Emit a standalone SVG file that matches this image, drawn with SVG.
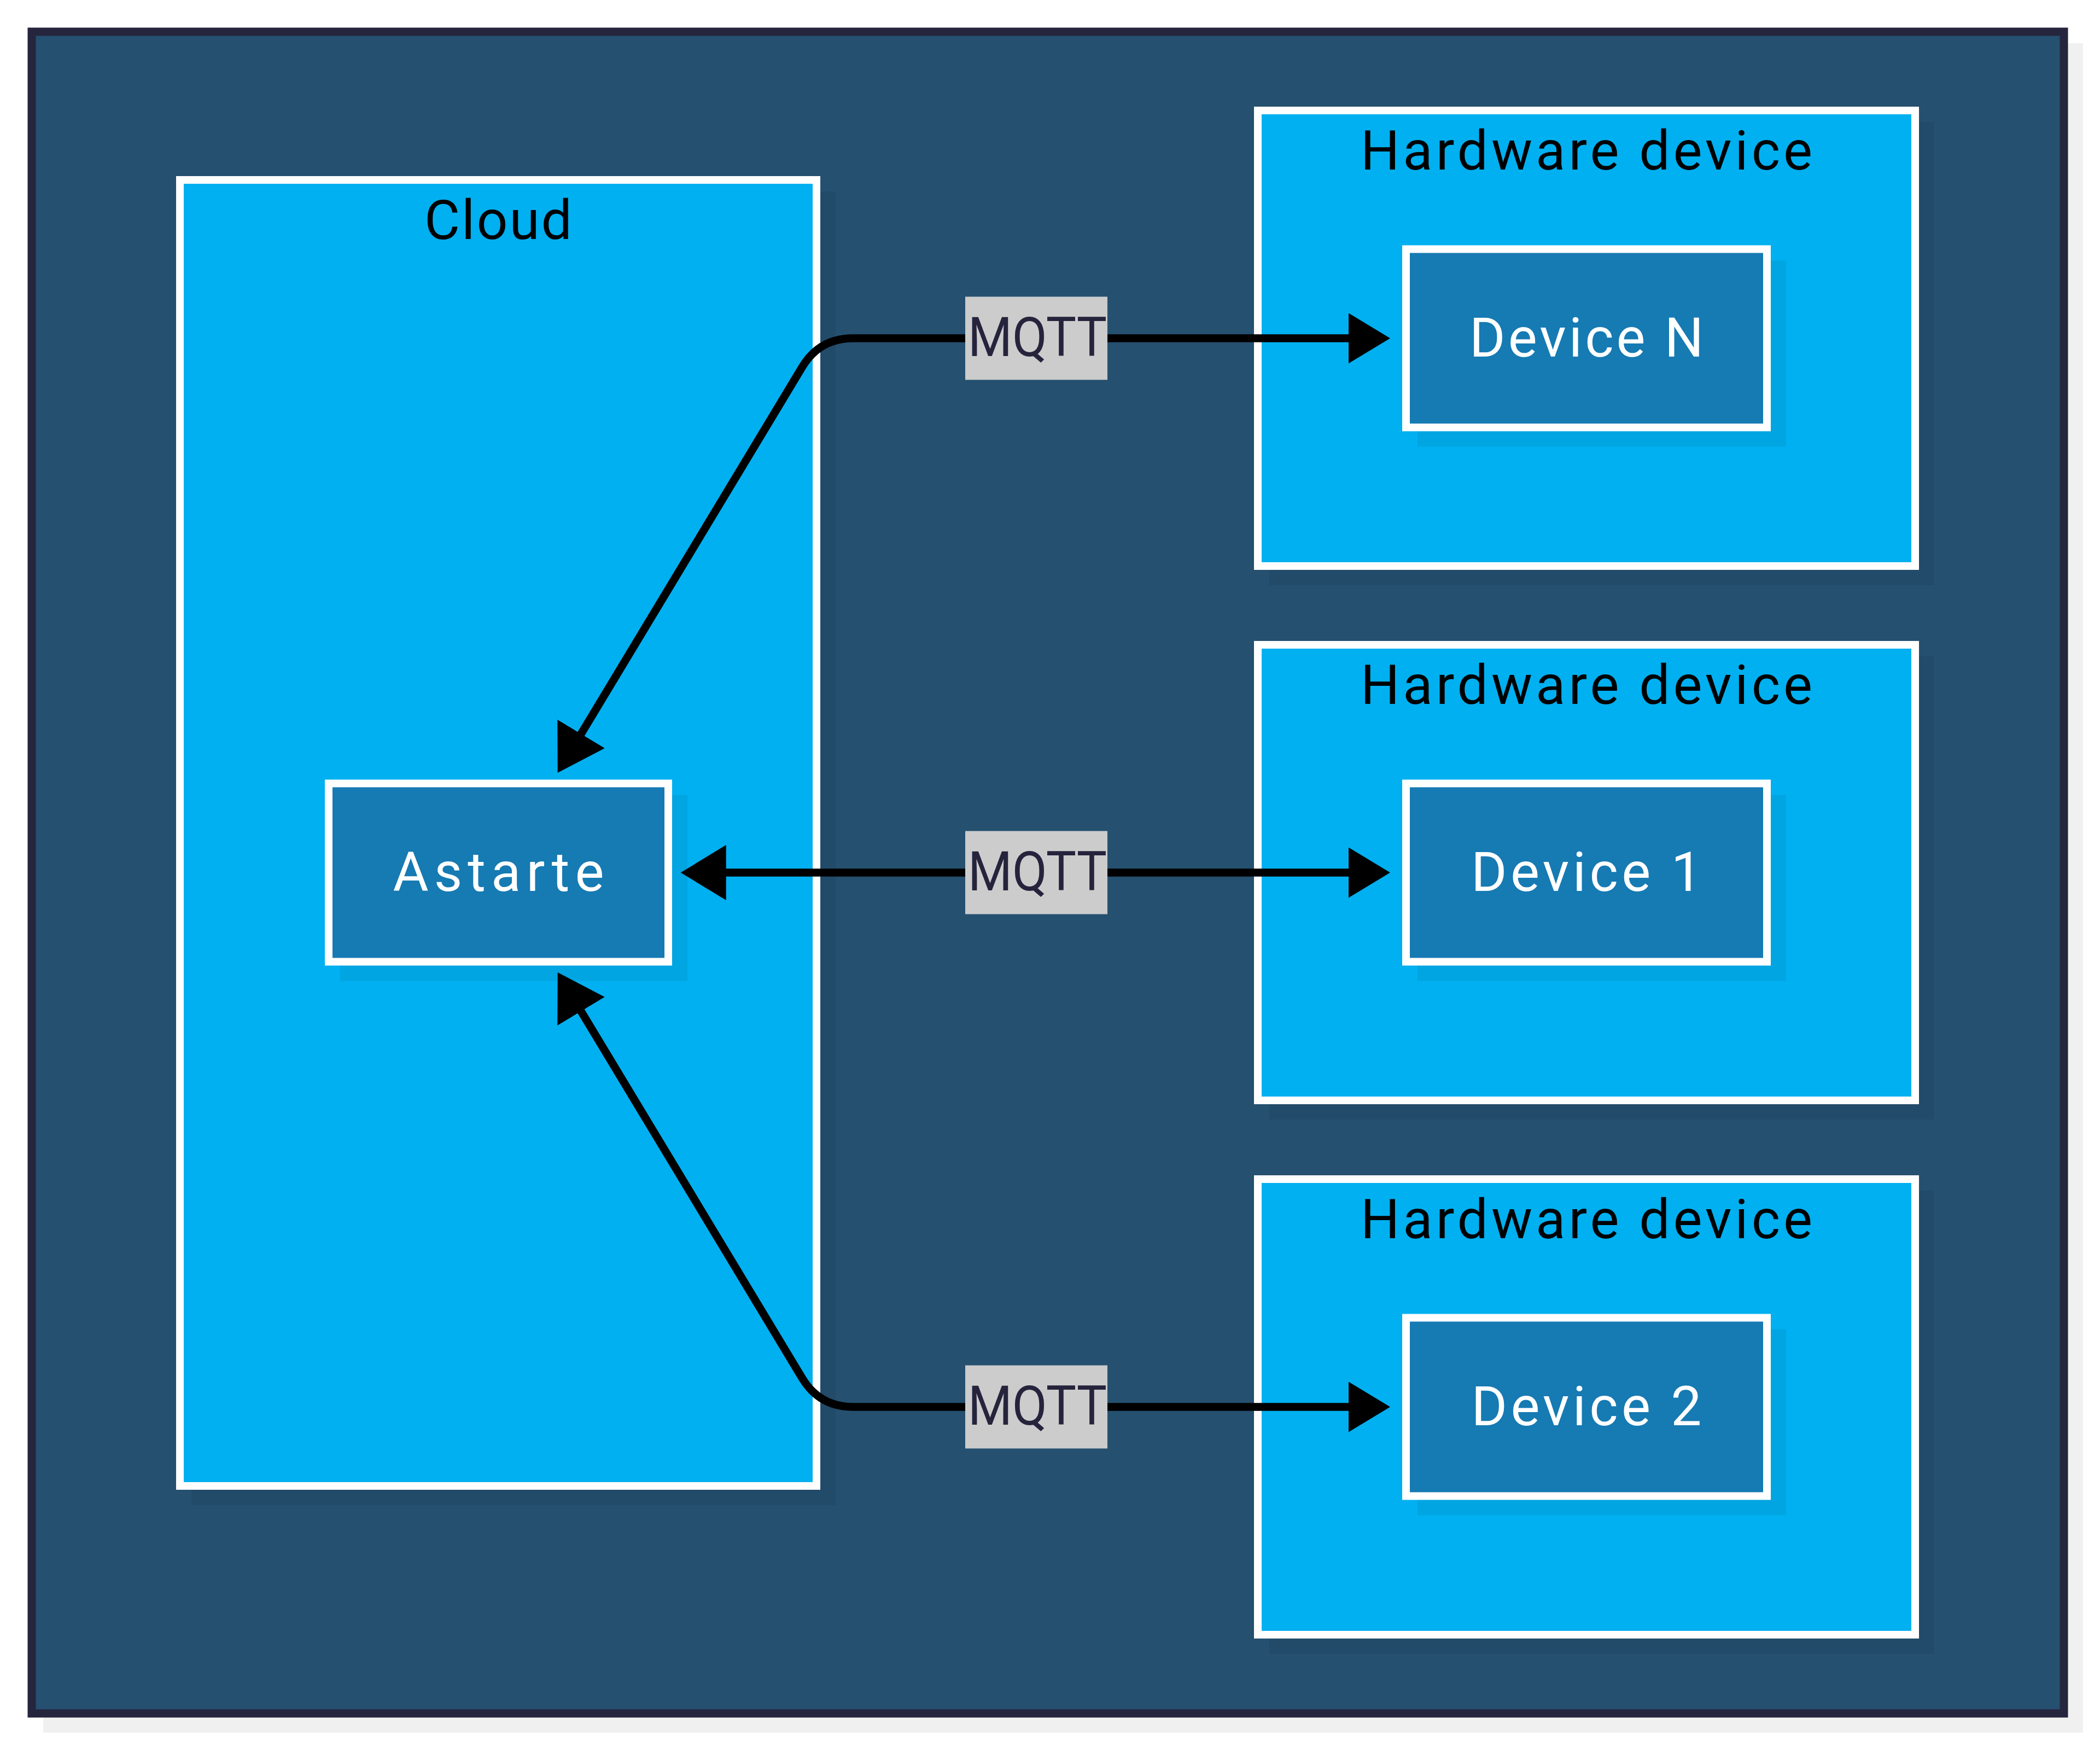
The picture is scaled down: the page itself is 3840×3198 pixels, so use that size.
<svg xmlns="http://www.w3.org/2000/svg" width="3840" height="3198" viewBox="0 0 3840 3198">
<style>
.shadow{fill:#000;fill-opacity:0.06;stroke:none}
.container{fill:#01B0F0;stroke:#FFFFFF;stroke-width:14}
.node{fill:#167AB3;stroke:#FFFFFF;stroke-width:14}
.title{font-family:Roboto,"Liberation Sans",sans-serif;font-weight:400;font-size:100px;fill:#000000;text-anchor:middle}
.nlabel{font-family:Roboto,"Liberation Sans",sans-serif;font-weight:400;font-size:100px;fill:#FFFFFF;text-anchor:middle}
.conn{fill:none;stroke:#000000;stroke-width:14.5;marker-start:url(#arrow-start);marker-end:url(#arrow-end)}
.lblbg{fill:#CCCCCC}
.lbl{font-family:Roboto,"Liberation Sans",sans-serif;font-weight:400;font-size:100px;fill:#26233C;text-anchor:middle}
</style>
<defs>
<marker id="arrow-end" markerUnits="userSpaceOnUse" markerWidth="80" markerHeight="96" viewBox="0 0 80 96" refX="1" refY="46" orient="auto"><path d="M0,0 L76,46 L0,92 Z" fill="#000"/></marker>
<marker id="arrow-start" markerUnits="userSpaceOnUse" markerWidth="86" markerHeight="104" viewBox="0 0 86 104" refX="1" refY="50.5" orient="auto-start-reverse"><path d="M0,0 L83,50.5 L0,101 Z" fill="#000"/></marker>
</defs>
<rect width="3840" height="3198" fill="#FFFFFF"/>
<g id="root">
<rect class="shadow" x="79" y="79" width="3730" height="3089"/>
<rect x="58" y="58" width="3716" height="3075" fill="#255070" stroke="#26253E" stroke-width="15"/>
</g>
<g id="cloud">
<rect class="shadow" x="350" y="350" width="1178" height="2402"/>
<rect class="container" x="329" y="329" width="1164" height="2388"/>
<text class="title" x="911" y="437" textLength="270">Cloud</text>
</g>
<g id="astarte">
<rect class="shadow" x="622" y="1453.5" width="635" height="340"/>
<rect class="node" x="601" y="1432.5" width="621" height="326"/>
<text class="nlabel" x="911.5" y="1628.5" textLength="386">Astarte</text>
</g>
<g id="hardware-n">
<rect class="shadow" x="2321" y="223" width="1216" height="847"/>
<rect class="container" x="2300" y="202" width="1202" height="833"/>
<text class="title" x="2901" y="310" textLength="826">Hardware device</text>
</g>
<g id="device-n">
<rect class="shadow" x="2592" y="476.5" width="674" height="340"/>
<rect class="node" x="2571" y="455.5" width="660" height="326"/>
<text class="nlabel" x="2901" y="651.5" textLength="428">Device N</text>
</g>
<g id="hardware-1">
<rect class="shadow" x="2321" y="1200" width="1216" height="847"/>
<rect class="container" x="2300" y="1179" width="1202" height="833"/>
<text class="title" x="2901" y="1287" textLength="826">Hardware device</text>
</g>
<g id="device-1">
<rect class="shadow" x="2592" y="1453.5" width="674" height="340"/>
<rect class="node" x="2571" y="1432.5" width="660" height="326"/>
<text class="nlabel" x="2901" y="1628.5" textLength="422">Device 1</text>
</g>
<g id="hardware-2">
<rect class="shadow" x="2321" y="2177" width="1216" height="847"/>
<rect class="container" x="2300" y="2156" width="1202" height="833"/>
<text class="title" x="2901" y="2264" textLength="826">Hardware device</text>
</g>
<g id="device-2">
<rect class="shadow" x="2592" y="2430.5" width="674" height="340"/>
<rect class="node" x="2571" y="2409.5" width="660" height="326"/>
<text class="nlabel" x="2901" y="2605.5" textLength="421">Device 2</text>
</g>
<g id="connectors">
<path class="conn" d="M1062,1342.8 L1466.9,671.1 Q1498.6,618.5 1560,618.5 L2467,618.5"/>
<path class="conn" d="M1326.7,1595.5 L2467,1595.5"/>
<path class="conn" d="M1062,1848.2 L1466.9,2519.9 Q1498.6,2572.5 1560,2572.5 L2467,2572.5"/>
<g id="label-n">
<rect class="lblbg" x="1765" y="542.5" width="260" height="152"/>
<text class="lbl" x="1897" y="650.5" textLength="254" lengthAdjust="spacingAndGlyphs">MQTT</text>
</g>
<g id="label-1">
<rect class="lblbg" x="1765" y="1519.5" width="260" height="152"/>
<text class="lbl" x="1897" y="1627.5" textLength="254" lengthAdjust="spacingAndGlyphs">MQTT</text>
</g>
<g id="label-2">
<rect class="lblbg" x="1765" y="2496.5" width="260" height="152"/>
<text class="lbl" x="1897" y="2604.5" textLength="254" lengthAdjust="spacingAndGlyphs">MQTT</text>
</g>
</g>
</svg>
